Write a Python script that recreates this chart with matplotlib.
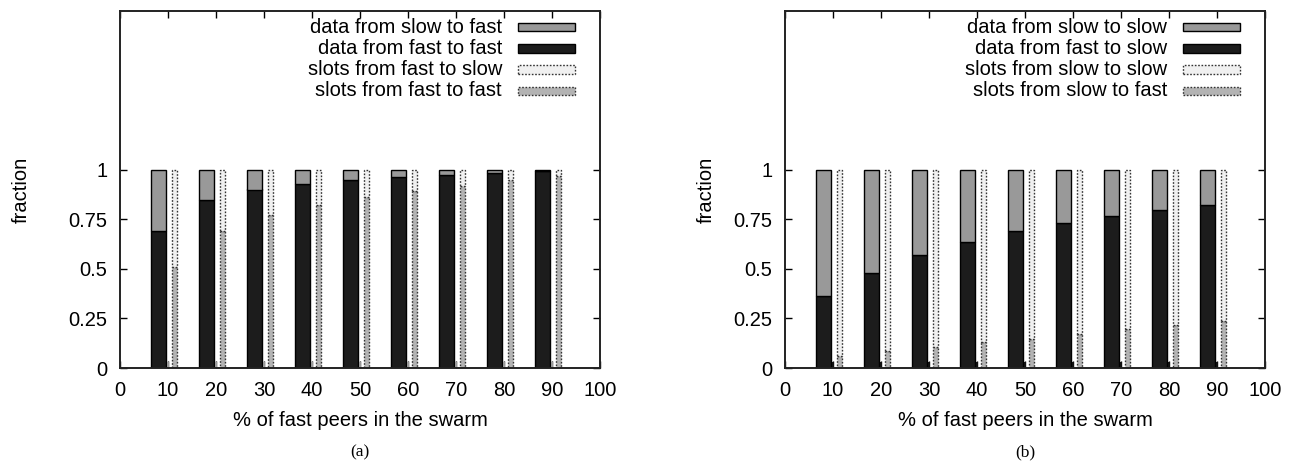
import matplotlib
matplotlib.use("Agg")
import matplotlib.pyplot as plt
from matplotlib.patches import Rectangle
import numpy as np

plt.rcParams['font.family'] = ['Liberation Sans', 'DejaVu Sans']

# percentage of fast peers in the swarm
fast_pct = [10, 20, 30, 40, 50, 60, 70, 80, 90]

# (a) traffic received by fast peers
data_fast_to_fast = [0.69, 0.845, 0.90, 0.93, 0.95, 0.965, 0.975, 0.985, 0.995]
slots_fast_to_fast = [0.508, 0.69, 0.77, 0.82, 0.86, 0.89, 0.92, 0.95, 0.97]
stub_a = [0.03] * 9

# (b) traffic received by slow peers
data_fast_to_slow = [0.364, 0.48, 0.570, 0.636, 0.691, 0.732, 0.767, 0.797, 0.824]
slots_slow_to_fast = [0.062, 0.087, 0.106, 0.129, 0.148, 0.173, 0.196, 0.215, 0.237]
stub_b = [0.03] * 9

legend_a = ["data from slow to fast", "data from fast to fast",
            "slots from fast to slow", "slots from fast to fast"]
legend_b = ["data from slow to slow", "data from fast to slow",
            "slots from slow to slow", "slots from slow to fast"]

C_DATA_TOP = "#999999"
C_DATA_LOW = "#1c1c1c"
C_SLOT_TOP = "#f0f0f0"
C_SLOT_LOW = "#b3b3b3"
DOT = (0, (1.2, 1.2))
FS = 14.5

fig = plt.figure(figsize=(12.94, 4.69), dpi=100)
ax_a = fig.add_axes([120 / 1294, 101 / 469, 480 / 1294, 357 / 469])
ax_b = fig.add_axes([785 / 1294, 101 / 469, 480 / 1294, 357 / 469])


def panel(ax, low, slots, stub, stub_color, labels, caption, ylab_x):
    x = np.array(fast_pct, dtype=float)
    low = np.array(low)
    slots = np.array(slots)
    # stacked data bars
    ax.bar(x - 2, low, width=3, color=C_DATA_LOW, edgecolor="#000000", linewidth=1.0, zorder=2)
    ax.bar(x - 2, 1 - low, bottom=low, width=3, color=C_DATA_TOP, edgecolor="#000000",
           linewidth=1.0, zorder=2)
    # short stubs at the baseline
    ax.bar(x, stub, width=0.3, color=stub_color, linewidth=0, zorder=2)
    # stacked slot bars
    ax.bar(x + 1.4, slots, width=1.1, color=C_SLOT_LOW, edgecolor="#333333",
           linewidth=1.0, linestyle=DOT, zorder=2)
    ax.bar(x + 1.4, 1 - slots, bottom=slots, width=1.1, color=C_SLOT_TOP, edgecolor="#333333",
           linewidth=1.0, linestyle=DOT, zorder=2)

    ax.set_xlim(0, 100)
    ax.set_ylim(0, 1.8)
    ax.set_xticks(range(0, 101, 10))
    ax.set_yticks([0, 0.25, 0.5, 0.75, 1])
    ax.set_yticklabels(["0", "0.25", "0.5", "0.75", "1"])
    ax.tick_params(direction="in", length=5, width=1, top=True, right=True,
                   labelsize=FS, pad=9, colors="#000000")
    for s in ax.spines.values():
        s.set_linewidth(1.4)
        s.set_color("#222222")
    ax.set_xlabel("% of fast peers in the swarm", fontsize=FS, labelpad=8)
    ax.set_ylabel("fraction", fontsize=FS)
    ax.yaxis.set_label_coords(ylab_x, 0.5)

    # key in the upper right corner
    styles = [
        dict(facecolor=C_DATA_TOP, edgecolor="#000000", linewidth=1.0),
        dict(facecolor=C_DATA_LOW, edgecolor="#000000", linewidth=1.0),
        dict(facecolor=C_SLOT_TOP, edgecolor="#333333", linewidth=1.0, linestyle=DOT),
        dict(facecolor=C_SLOT_LOW, edgecolor="#333333", linewidth=1.0, linestyle=DOT),
    ]
    for i, (lab, st) in enumerate(zip(labels, styles)):
        yc = 0.955 - i * 0.0595
        ax.text(0.796, yc, lab, transform=ax.transAxes, ha="right", va="center", fontsize=FS)
        ax.add_patch(Rectangle((0.829, yc - 0.012), 0.119, 0.024, transform=ax.transAxes,
                               clip_on=False, zorder=3, **st))

    ax.text(0.5, -0.235, caption, transform=ax.transAxes, ha="center", va="center",
            fontsize=12.5, family="Liberation Serif")


panel(ax_a, data_fast_to_fast, slots_fast_to_fast, stub_a, "#999999", legend_a, "(a)", -0.185)
panel(ax_b, data_fast_to_slow, slots_slow_to_fast, stub_b, "#111111", legend_b, "(b)", -0.145)

fig.savefig("out.png", dpi=100)
